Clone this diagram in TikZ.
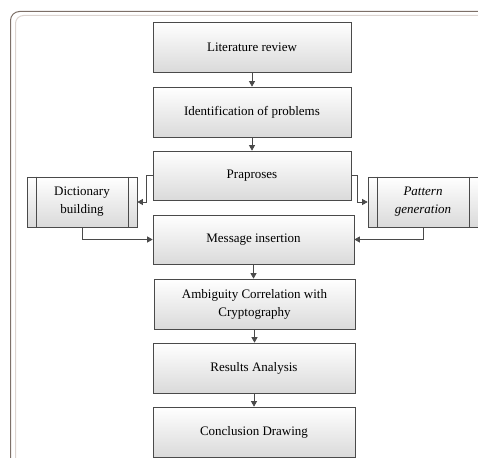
\documentclass[tikz,border=0pt]{standalone}
\usepackage{fontspec}
\setmainfont{Liberation Serif}
\usetikzlibrary{arrows.meta,shadows}
\definecolor{edge}{HTML}{4A4A4A}
\definecolor{boxbot}{HTML}{DADADA}
\definecolor{frameout}{HTML}{7D7068}
\definecolor{framein}{HTML}{DCD4D0}
\begin{document}
\begin{tikzpicture}[x=1pt,y=-1pt,
  box/.style={draw=edge, line width=0.7pt, rectangle, top color=white, bottom color=boxbot,
    align=center, font=\fontsize{13}{18}\selectfont, inner sep=2pt,
    drop shadow={shadow xshift=1pt, shadow yshift=-1pt, fill=black!70, opacity=0.6}},
  arr/.style={draw=edge, line width=0.7pt, -{Triangle[length=5.5pt,width=6pt]}},
  line/.style={draw=edge, line width=0.7pt}]
\useasboundingbox (0,0) rectangle (478,457);
% frame
\draw[frameout, line width=1pt, rounded corners=9pt] (10.5,460) -- (10.5,11.5) -- (490,11.5);
\draw[framein, line width=1pt, rounded corners=8pt] (15.5,460) -- (15.5,15.5) -- (490,15.5);
% main boxes
\node[box, minimum width=198, minimum height=50] (lit) at (252,47) {Literature review};
\node[box, minimum width=198, minimum height=50] (idp) at (252,112) {Identification of problems};
\node[box, minimum width=198, minimum height=49] (pra) at (252,175.5) {Praproses};
\node[box, minimum width=110, minimum height=50] (dic) at (82,202) {Dictionary\\building};
\node[box, minimum width=110, minimum height=50] (pat) at (423,202) {\itshape Pattern\\\itshape generation};
\node[box, minimum width=201, minimum height=49] (msg) at (253.5,239.5) {Message insertion};
\node[box, minimum width=201, minimum height=50] (amb) at (254.5,304) {Ambiguity Correlation with\\Cryptography};
\node[box, minimum width=202, minimum height=50] (res) at (254,368) {Results Analysis};
\node[box, minimum width=202, minimum height=50] (con) at (254,432) {Conclusion Drawing};
% inner bars of predefined process boxes
\foreach \n in {dic,pat}{
  \draw[line] ([xshift=9.5pt]\n.north west) -- ([xshift=9.5pt]\n.south west);
  \draw[line] ([xshift=-9.5pt]\n.north east) -- ([xshift=-9.5pt]\n.south east);
}
% connectors
\draw[arr] (lit.south) -- (lit.south |- idp.north);
\draw[arr] (idp.south) -- (idp.south |- pra.north);
\draw[arr] (msg.south) -- (msg.south |- amb.north);
\draw[arr] (amb.south) -- (amb.south |- res.north);
\draw[arr] (res.south) -- (res.south |- con.north);
\draw[arr] (pra.west) -- ++(-6,0) |- (dic.east);
\draw[arr] (pra.east) -- ++(6,0) |- (pat.west);
\draw[arr] (dic.south) |- (msg.west);
\draw[arr] (pat.south) |- (msg.east);
\end{tikzpicture}
\end{document}
